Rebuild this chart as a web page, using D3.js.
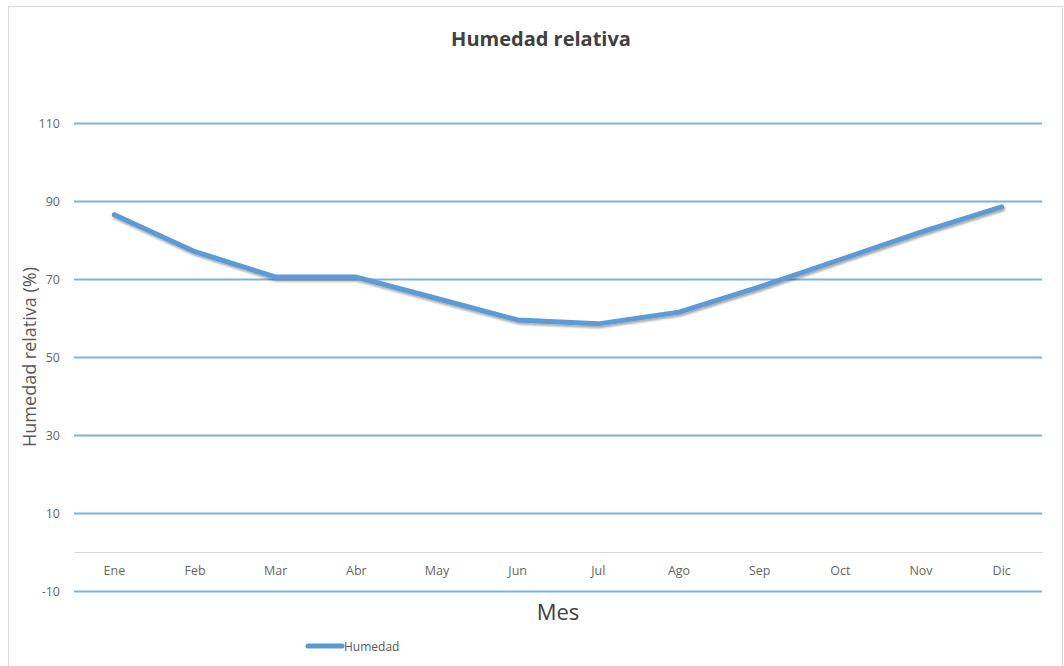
<!DOCTYPE html>
<html>
<head>
<meta charset="utf-8">
<script src="https://cdn.jsdelivr.net/npm/d3@7"></script>
<style>
  html, body { margin: 0; padding: 0; background: #fff; }
  svg { display: block; font-family: "Open Sans", "Noto Sans", sans-serif; }
</style>
</head>
<body>
<svg id="chart" width="1064" height="666"></svg>
<script>
// Monthly relative humidity
const months = ["Ene", "Feb", "Mar", "Abr", "May", "Jun", "Jul", "Ago", "Sep", "Oct", "Nov", "Dic"];
const humidity = [86.5, 77, 70.5, 70.5, 65, 59.5, 58.5, 61.5, 68, 75, 82, 88.5];
const yTicks = [-10, 10, 30, 50, 70, 90, 110];

const svg = d3.select("#chart");
const W = 1064, H = 666;
const margin = { left: 74, right: 22, top: 123, bottom: 75 };
const FONT = '"Open Sans", "Noto Sans", sans-serif';

// chart frame
svg.append("rect")
  .attr("x", 8.5).attr("y", 6.5)
  .attr("width", W - 10).attr("height", H + 10)
  .attr("fill", "#fff").attr("stroke", "#d9d9d9").attr("stroke-width", 1);

const x = d3.scaleBand()
  .domain(months)
  .range([margin.left, W - margin.right]);

const y = d3.scaleLinear()
  .domain([-10, 110])
  .range([H - margin.bottom, margin.top]);

// shadow under the series line
const defs = svg.append("defs");
const f = defs.append("filter").attr("id", "shadow")
  .attr("x", "-5%").attr("y", "-20%").attr("width", "110%").attr("height", "140%");
f.append("feDropShadow")
  .attr("dx", 1).attr("dy", 2).attr("stdDeviation", 1.2)
  .attr("flood-color", "#000").attr("flood-opacity", 0.35);

// horizontal gridlines + tick labels
const yAxis = d3.axisLeft(y)
  .tickValues(yTicks)
  .tickFormat(d => String(d))
  .tickSize(-(W - margin.left - margin.right))
  .tickPadding(14);
const gy = svg.append("g")
  .attr("transform", `translate(${margin.left},0)`)
  .call(yAxis)
  .attr("font-family", FONT);
gy.select(".domain").remove();
gy.selectAll(".tick line")
  .attr("stroke", "#7db1e3").attr("stroke-width", 2);
gy.selectAll(".tick text")
  .attr("fill", "#666").attr("font-size", 12.5)
  .attr("x", -14);

// category axis crossing at zero
const xAxis = d3.axisBottom(x).tickSize(0).tickPadding(14);
const gx = svg.append("g")
  .attr("transform", `translate(0,${y(0)})`)
  .call(xAxis)
  .attr("font-family", FONT);
gx.select(".domain").attr("stroke", "#d9d9d9").attr("stroke-width", 1);
gx.selectAll(".tick text").attr("fill", "#666").attr("font-size", 12.5);

// series line
const line = d3.line()
  .x((d, i) => x(months[i]) + x.bandwidth() / 2)
  .y(d => y(d));
svg.append("path")
  .datum(humidity)
  .attr("d", line)
  .attr("fill", "none")
  .attr("stroke", "#5b9bd5")
  .attr("stroke-width", 5)
  .attr("stroke-linecap", "round")
  .attr("stroke-linejoin", "round")
  .attr("filter", "url(#shadow)");

// title
svg.append("text")
  .attr("x", 541).attr("y", 46)
  .attr("text-anchor", "middle")
  .attr("font-size", 20).attr("font-weight", "bold")
  .attr("fill", "#404040")
  .text("Humedad relativa");

// axis titles
svg.append("text")
  .attr("transform", `translate(36,${(y(110) + y(-10)) / 2}) rotate(-90)`)
  .attr("text-anchor", "middle")
  .attr("font-size", 18)
  .attr("fill", "#595959")
  .text("Humedad relativa (%)");

svg.append("text")
  .attr("x", 558).attr("y", 620)
  .attr("text-anchor", "middle")
  .attr("font-size", 22)
  .attr("fill", "#404040")
  .text("Mes");

// legend
const lg = svg.append("g").attr("transform", "translate(308,646)");
lg.append("line")
  .attr("x1", 0).attr("x2", 34).attr("y1", 0).attr("y2", 0)
  .attr("stroke", "#5b9bd5").attr("stroke-width", 5)
  .attr("stroke-linecap", "round");
lg.append("text")
  .attr("x", 36).attr("y", 4.5)
  .attr("font-size", 12).attr("fill", "#595959")
  .text("Humedad");
</script>
</body>
</html>
